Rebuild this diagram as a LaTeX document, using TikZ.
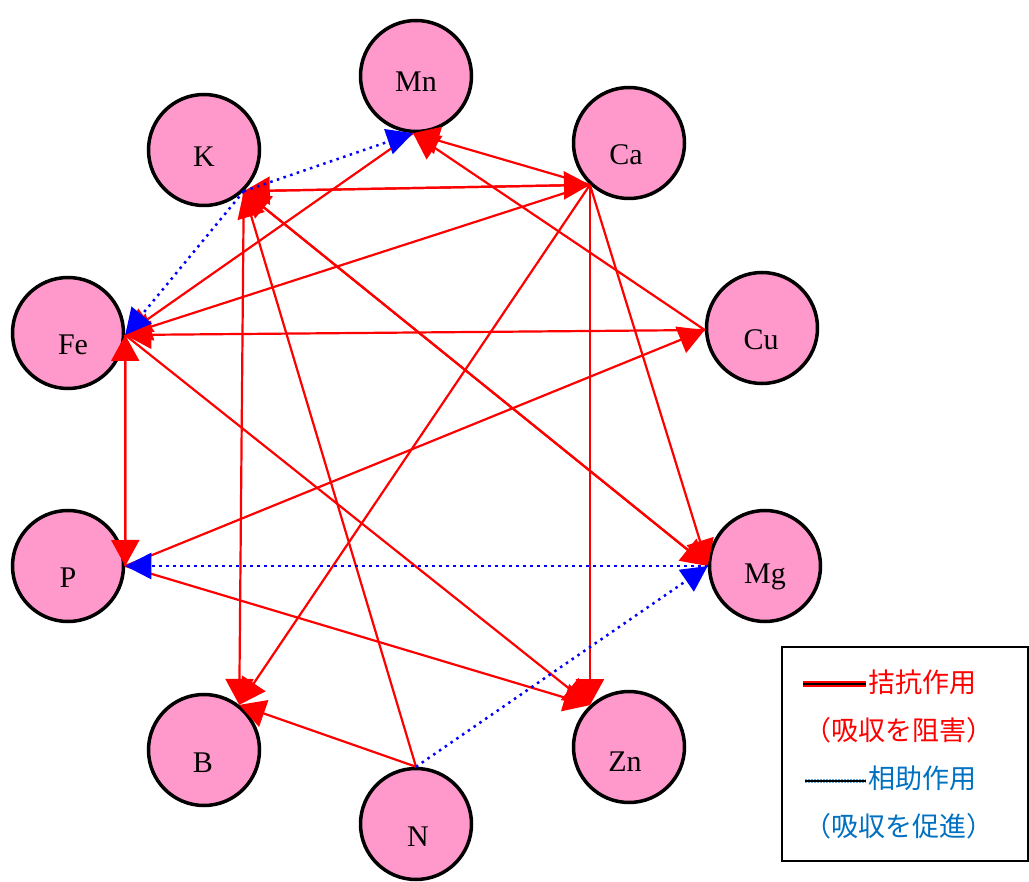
\documentclass[tikz,border=0pt]{standalone}
\usepackage{fontspec}
\setmainfont{Liberation Serif}
\newfontfamily\cjk{Noto Sans CJK JP}
\usetikzlibrary{arrows.meta}
\definecolor{pinkfill}{RGB}{255,153,204}
\definecolor{legblue}{RGB}{0,112,192}
\begin{document}
\begin{tikzpicture}[x=1pt,y=-1pt,
  elem/.style={circle,draw=black,line width=3.5pt,fill=pinkfill,minimum size=111pt,inner sep=0pt},
  lab/.style={font=\fontsize{30}{36}\selectfont,inner sep=0pt},
  anta/.style={draw=red,line width=2.2pt,-{Triangle[length=26pt,width=28pt]},red},
  syn/.style={draw=blue,line width=2.5pt,dash pattern=on 2.5pt off 4.5pt,-{Triangle[length=26pt,width=26pt]},blue},
  legtext/.style={anchor=west,inner sep=0pt,font=\cjk\fontsize{27}{30}\selectfont},
]
\useasboundingbox (0,0) rectangle (1029,882);
% elements
\node[elem] (Mn) at (416,76) {};
\node[elem] (K)  at (204,150) {};
\node[elem] (Ca) at (629,143) {};
\node[elem] (Fe) at (68,333) {};
\node[elem] (Cu) at (762,328) {};
\node[elem] (P)  at (68,566) {};
\node[elem] (Mg) at (765,566) {};
\node[elem] (B)  at (204,750) {};
\node[elem] (Zn) at (629,747) {};
\node[elem] (N)  at (416,824) {};
% labels
\node[lab] (Mnt) at (416,82) {Mn};
\node[lab] (Kt)  at (204,157) {K};
\node[lab] (Cat) at (626,155) {Ca};
\node[lab] (Fet) at (73,345) {Fe};
\node[lab] (Cut) at (761,340) {Cu};
\node[lab] (Pt)  at (68,578) {P};
\node[lab] (Mgt) at (765,577) {Mg};
\node[lab] (Bt)  at (203,763) {B};
\node[lab] (Znt) at (625,762) {Zn};
\node[lab] (Nt)  at (418,837) {N};
% antagonism (red)
\draw[anta] (K.-46) -- (Ca.-133);
\draw[anta] (Ca.-133) -- (K.-46);
\draw[anta] (Ca.-133) -- (Mn.-93);
\draw[anta] (Cu.182) -- (Mn.-93);
\draw[anta] (Mn.-93) -- (Fe.-2);
\draw[anta] (Ca.-133) -- (Fe.-2);
\draw[anta] (Cu.182) -- (Fe.-2);
\draw[anta] (Ca.-133) -- (B.52);
\draw[anta] (Ca.-133) -- (Zn.133);
\draw[anta] (Ca.-133) -- (Mg.180);
\draw[anta] (K.-46) -- (B.52);
\draw[anta] (K.-46) -- (Mg.180);
\draw[anta] (Mg.180) -- (K.-46);
\draw[anta] (N.90) -- (K.-46);
\draw[anta] (N.90) -- (B.52);
\draw[anta] (Fe.-2) -- (P.0);
\draw[anta] (P.0) -- (Fe.-2);
\draw[anta] (Fe.-2) -- (Zn.133);
\draw[anta] (P.0) -- (Cu.182);
\draw[anta] (P.0) -- (Zn.133);
% synergism (blue)
\draw[syn] (K.-46) -- (Mn.-93);
\draw[syn] (K.-46) -- (Fe.-2);
\draw[syn] (Mg.180) -- (P.0);
\draw[syn] (N.90) -- (Mg.180);
% legend
\node[draw=black,line width=1.5pt,rectangle,minimum width=246pt,minimum height=214pt,anchor=north west,inner sep=0pt] (leg) at (781,646) {};
\coordinate (r1) at (803,684);
\coordinate (r2) at (866,684);
\coordinate (b1) at (805,781);
\coordinate (b2) at (866,781);
\draw[red,line width=6pt] (r1) -- (r2);
\draw[black,line width=1.5pt] (r1) -- (r2);
\draw[legblue!60,line width=4pt,dash pattern=on 1.5pt off 1.5pt] (b1) -- (b2);
\draw[black,line width=1.2pt] (b1) -- (b2);
\node[legtext,text=red] (t1) at (868,682) {拮抗作用};
\node[legtext,text=red] (t2) at (804,730) {（吸収を阻害）};
\node[legtext,text=legblue] (t3) at (868,778) {相助作用};
\node[legtext,text=legblue] (t4) at (804,826) {（吸収を促進）};
\end{tikzpicture}
\end{document}
